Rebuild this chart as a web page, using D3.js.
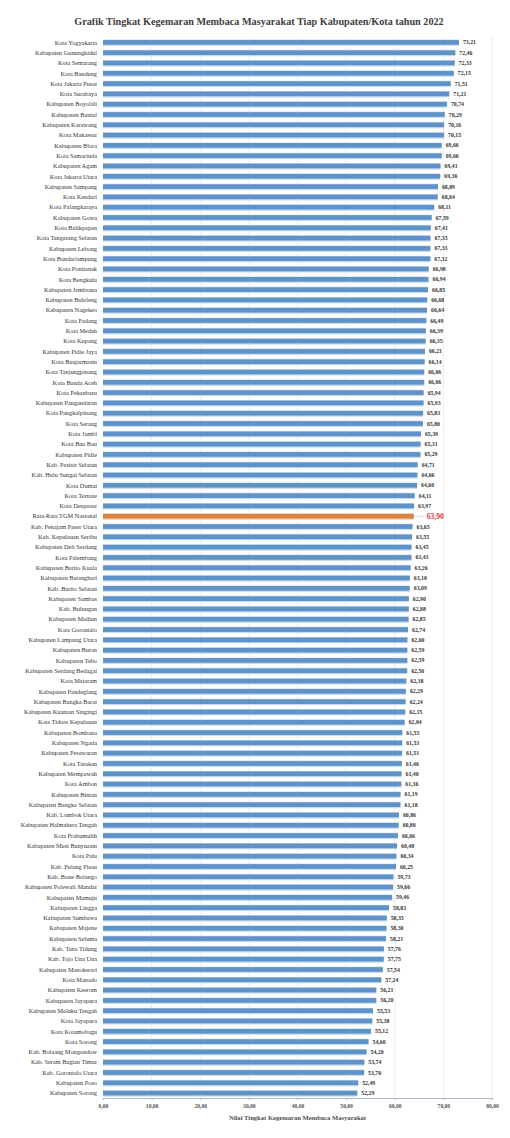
<!DOCTYPE html>
<html>
<head>
<meta charset="utf-8">
<script src="https://cdn.jsdelivr.net/npm/d3@7"></script>
<style>
  body { margin: 0; background: #fff; }
  text { font-family: "Liberation Serif", "DejaVu Serif", serif; }
</style>
</head>
<body>
<div id="chart"></div>
<script>
// data
var regions = [
  "Kota Yogyakarta", "Kabupaten Gunungkidul", "Kota Semarang", "Kota Bandung", "Kota Jakarta Pusat",
  "Kota Surabaya", "Kabupaten Boyolali", "Kabupaten Bantul", "Kabupaten Karawang", "Kota Makassar",
  "Kabupaten Blora", "Kota Samarinda", "Kabupaten Agam", "Kota Jakarta Utara", "Kabupaten Sampang",
  "Kota Kendari", "Kota Palangkaraya", "Kabupaten Gowa", "Kota Balikpapan", "Kota Tangerang Selatan",
  "Kabupaten Lebong", "Kota Bandarlampung", "Kota Pontianak", "Kota Bengkulu", "Kabupaten Jembrana",
  "Kabupaten Buleleng", "Kabupaten Nagekeo", "Kota Padang", "Kota Medan", "Kota Kupang",
  "Kabupaten Pidie Jaya", "Kota Banjarmasin", "Kota Tanjungpinang", "Kota Banda Aceh", "Kota Pekanbaru",
  "Kabupaten Pangandaran", "Kota Pangkalpinang", "Kota Serang", "Kota Jambi", "Kota Bau Bau",
  "Kabupaten Pidie", "Kab. Pesisir Selatan", "Kab. Hulu Sungai Selatan", "Kota Dumai", "Kota Ternate",
  "Kota Denpasar", "Rata-Rata TGM Nasional", "Kab. Penajam Paser Utara", "Kab. Kepulauan Seribu", "Kabupaten Deli Serdang",
  "Kota Palembang", "Kabupaten Barito Kuala", "Kabupaten Batanghari", "Kab. Barito Selatan", "Kabupaten Sambas",
  "Kab. Bulungan", "Kabupaten Madiun", "Kota Gorontalo", "Kabupaten Lampung Utara", "Kabupaten Buton",
  "Kabupaten Tebo", "Kabupaten Serdang Bedagai", "Kota Mataram", "Kabupaten Pandeglang", "Kabupaten Bangka Barat",
  "Kabupaten Kuantan Singingi", "Kota Tidore Kepulauan", "Kabupaten Bombana", "Kabupaten Ngada", "Kabupaten Pesawaran",
  "Kota Tarakan", "Kabupaten Mempawah", "Kota Ambon", "Kabupaten Bintan", "Kabupaten Bangka Selatan",
  "Kab. Lombok Utara", "Kabupaten Halmahera Tengah", "Kota Prabumulih", "Kabupaten Musi Banyuasin", "Kota Palu",
  "Kab. Pulang Pisau", "Kab. Bone Bolango", "Kabupaten Polewali Mandar", "Kabupaten Mamuju", "Kabupaten Lingga",
  "Kabupaten Sumbawa", "Kabupaten Majene", "Kabupaten Seluma", "Kab. Tana Tidung", "Kab. Tojo Una Una",
  "Kabupaten Manokwari", "Kota Manado", "Kabupaten Keerom", "Kabupaten Jayapura", "Kabupaten Maluku Tengah",
  "Kota Jayapura", "Kota Kotamobagu", "Kota Sorong", "Kab. Bolaang Mongondow", "Kab. Seram Bagian Timur",
  "Kab. Gorontalo Utara", "Kabupaten Poso", "Kabupaten Sorong"
];

var scores = [
  73.21, 72.46, 72.33, 72.15, 71.51,
  71.21, 70.74, 70.29, 70.16, 70.15,
  69.66, 69.66, 69.41, 69.36, 68.89,
  68.84, 68.11, 67.59, 67.41, 67.35,
  67.33, 67.32, 66.98, 66.94, 66.85,
  66.68, 66.64, 66.49, 66.39, 66.35,
  66.21, 66.14, 66.06, 66.06, 65.94,
  65.93, 65.83, 65.80, 65.39, 65.31,
  65.29, 64.71, 64.66, 64.60, 64.11,
  63.97, 63.90, 63.65, 63.55, 63.45,
  63.43, 63.26, 63.10, 63.09, 62.90,
  62.88, 62.85, 62.74, 62.60, 62.59,
  62.59, 62.56, 62.38, 62.29, 62.24,
  62.15, 62.04, 61.55, 61.53, 61.51,
  61.46, 61.40, 61.36, 61.19, 61.18,
  60.86, 60.80, 60.66, 60.48, 60.34,
  60.25, 59.73, 59.66, 59.46, 58.83,
  58.35, 58.30, 58.21, 57.76, 57.75,
  57.54, 57.24, 56.21, 56.20, 55.53,
  55.38, 55.12, 54.60, 54.20, 53.74,
  53.70, 52.49, 52.29
];

var nationalAverage = "Rata-Rata TGM Nasional";
var xTicks = [0, 10, 20, 30, 40, 50, 60, 70, 80];

var chartTitle = "Grafik Tingkat Kegemaran Membaca Masyarakat Tiap Kabupaten/Kota tahun 2022";
var xTitle = "Nilai Tingkat Kegemaran Membaca Masyarakat";

var data = regions.map(function(r, i) {
  return { region: r, score: scores[i] };
});

// svg
var W = 510, H = 1138;
var margin = { top: 37.5, right: 18, bottom: 40, left: 103 };

var svg = d3.select("#chart")
  .append("svg")
  .attr("width", W)
  .attr("height", H);

var xScale = d3.scaleLinear().domain([0, 80]).range([margin.left, W - margin.right]);
var yScale = d3.scaleBand()
  .domain(regions)
  .range([margin.top, H - margin.bottom])
  .paddingInner(0.55)
  .paddingOuter(0.25);

var comma = function(v) { return d3.format(".2f")(v).replace(".", ","); };

// title
svg.append("text")
  .attr("x", 259)
  .attr("y", 25)
  .attr("text-anchor", "middle")
  .style("font-size", "10.2px")
  .style("font-weight", "bold")
  .style("fill", "#404040")
  .text(chartTitle);

// gridlines
svg.append("g")
  .selectAll("line")
  .data(xTicks.slice(1))
  .enter()
  .append("line")
  .attr("x1", function(d) { return xScale(d); })
  .attr("x2", function(d) { return xScale(d); })
  .attr("y1", margin.top)
  .attr("y2", H - margin.bottom)
  .style("stroke", "#e8e8e8")
  .style("stroke-width", 0.8);

// x axis
var xAxis = d3.axisBottom(xScale)
  .tickValues(xTicks)
  .tickSize(2)
  .tickFormat(comma);

var xAxisGroup = svg.append("g")
  .attr("transform", "translate(0," + (H - margin.bottom) + ")")
  .call(xAxis);

xAxisGroup.select(".domain").style("stroke", "#aab8c8");
xAxisGroup.selectAll(".tick line").style("stroke", "#aab8c8");
xAxisGroup.selectAll("text")
  .attr("dy", "0.9em")
  .style("font-size", "5.6px")
  .style("font-weight", "bold")
  .style("font-family", "'Liberation Serif', serif")
  .style("fill", "#555");

svg.append("text")
  .attr("x", (xScale(0) + xScale(80)) / 2)
  .attr("y", H - margin.bottom + 22)
  .attr("text-anchor", "middle")
  .style("font-size", "6.6px")
  .style("font-weight", "bold")
  .style("fill", "#505050")
  .text(xTitle);

// bars: a pale strip under a darker bar
var bh = yScale.bandwidth();
var rows = svg.append("g")
  .selectAll(".row")
  .data(data)
  .enter()
  .append("g")
  .attr("class", "row");

rows.append("rect")
  .attr("x", xScale(0))
  .attr("y", function(d) { return yScale(d.region) - 0.6; })
  .attr("width", function(d) { return xScale(d.score) - xScale(0); })
  .attr("height", bh + 1.8)
  .style("fill", function(d) { return d.region == nationalAverage ? "#f1cfaa" : "#c6dcf1"; });

rows.append("rect")
  .attr("x", xScale(0))
  .attr("y", function(d) { return yScale(d.region); })
  .attr("width", function(d) { return xScale(d.score) - xScale(0); })
  .attr("height", bh)
  .style("fill", function(d) { return d.region == nationalAverage ? "#d9843e" : "#5f92c6"; });

// category labels
rows.append("text")
  .attr("x", xScale(0) - 6)
  .attr("y", function(d) { return yScale(d.region) + bh / 2; })
  .attr("dy", "0.35em")
  .attr("text-anchor", "end")
  .style("font-size", "6.3px")
  .style("fill", "#333")
  .text(function(d) { return d.region; });

// value labels
rows.filter(function(d) { return d.region != nationalAverage; })
  .append("text")
  .attr("x", function(d) { return xScale(d.score) + 4; })
  .attr("y", function(d) { return yScale(d.region) + bh / 2; })
  .attr("dy", "0.35em")
  .style("font-size", "5.8px")
  .style("font-weight", "bold")
  .style("fill", "#333")
  .text(function(d) { return comma(d.score); });

// national average label with leader line
var avg = rows.filter(function(d) { return d.region == nationalAverage; });
avg.append("line")
  .attr("x1", function(d) { return xScale(d.score) + 1; })
  .attr("x2", function(d) { return xScale(d.score) + 11; })
  .attr("y1", function(d) { return yScale(d.region) + bh / 2; })
  .attr("y2", function(d) { return yScale(d.region) + bh / 2; })
  .style("stroke", "#bbb")
  .style("stroke-width", 0.6);
avg.append("text")
  .attr("x", function(d) { return xScale(d.score) + 13; })
  .attr("y", function(d) { return yScale(d.region) + bh / 2; })
  .attr("dy", "0.35em")
  .style("font-size", "7.6px")
  .style("font-weight", "bold")
  .style("fill", "#e0373a")
  .text(function(d) { return comma(d.score); });
</script>
</body>
</html>
